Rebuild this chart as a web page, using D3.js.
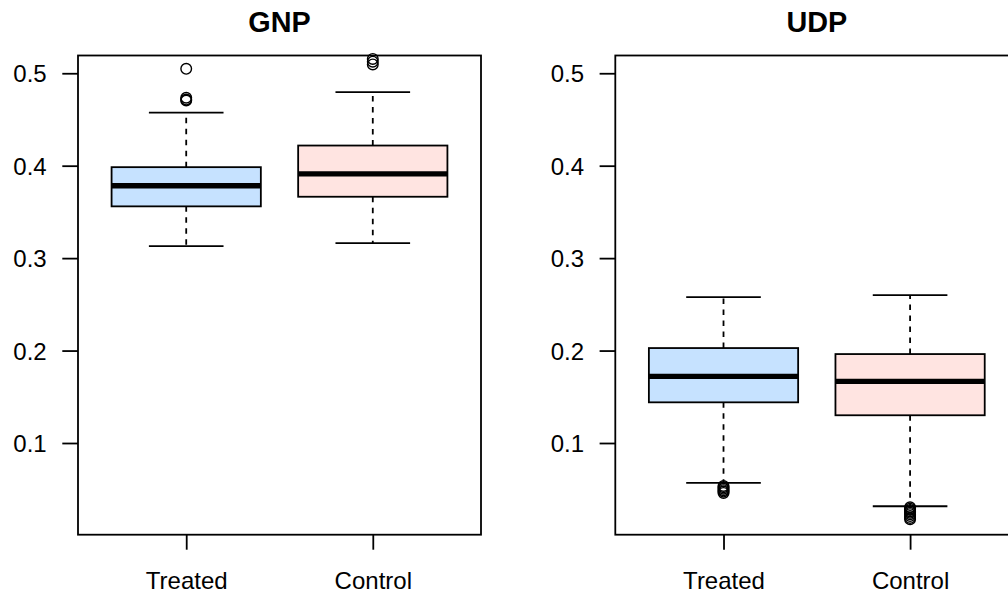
<!DOCTYPE html>
<html>
<head>
  <meta charset="utf-8" />
  <title>GNP / UDP boxplots</title>
  <script src="https://d3js.org/d3.v7.min.js"></script>
  <style>
    body{margin:0;background:#fff;}
    text{font-family:"Liberation Sans",Arial,Helvetica,sans-serif;fill:#000;}
  </style>
</head>
<body>
<script>
// groups and colours
var groups = ["Treated", "Control"];
var fills = ["#C6E2FF", "#FFE4E1"];
var yTicks = [0.1, 0.2, 0.3, 0.4, 0.5];

// five-number summaries: [lower whisker, Q1, median, Q3, upper whisker]
var gnpStats = [[0.313, 0.356, 0.3783, 0.3984, 0.4575], [0.3162, 0.3664, 0.3912, 0.4218, 0.4795]];
var gnpOutliers = [[0.5048, 0.4735, 0.4715, 0.4705], [0.5155, 0.5125, 0.5095]];
var udpStats = [[0.0568, 0.144, 0.1721, 0.2027, 0.2578], [0.0316, 0.130, 0.1667, 0.1962, 0.260]];
var udpOutliers = [[0.0535, 0.052, 0.0505, 0.049, 0.0475, 0.046],
                   [0.0305, 0.029, 0.0275, 0.026, 0.0245, 0.023, 0.021, 0.019, 0.0175]];

var panels = [
  {title: "GNP", stats: gnpStats, outliers: gnpOutliers, left: 78},
  {title: "UDP", stats: udpStats, outliers: udpOutliers, left: 615.3}
];

var W = 1008, H = 597;
var pw = 403, plotTop = 55.5, plotBottom = 534.7;

var svg = d3.select("body").append("svg").attr("width", W).attr("height", H);

// shared scales (R: ylim c(0.02,0.5) widened 4%)
var y = d3.scaleLinear().domain([0.0008, 0.5192]).range([plotBottom, plotTop]);
var x = d3.scaleLinear().domain([0.42, 2.58]).range([0, pw]);
var boxW = x(0.8) - x(0), capW = boxW / 2;

panels.forEach(function(p){
  var g = svg.append("g").attr("transform", "translate(" + p.left + ",0)");

  // title
  g.append("text").attr("x", pw / 2).attr("y", 31.5)
    .attr("text-anchor", "middle").style("font-weight", "bold").style("font-size", "28.8px")
    .text(p.title);

  // boxes
  var b = g.selectAll(".box").data(p.stats).enter().append("g").attr("class", "box");
  b.each(function(s, i){
    var c = x(i + 1), sel = d3.select(this);
    // dashed whiskers
    sel.append("line").attr("x1", c).attr("x2", c).attr("y1", y(s[3])).attr("y2", y(s[4]))
      .attr("stroke", "#000").attr("stroke-width", 1.8).attr("stroke-dasharray", "5.5,5.5");
    sel.append("line").attr("x1", c).attr("x2", c).attr("y1", y(s[1])).attr("y2", y(s[0]))
      .attr("stroke", "#000").attr("stroke-width", 1.8).attr("stroke-dasharray", "5.5,5.5");
    // staples
    [s[0], s[4]].forEach(function(v){
      sel.append("line").attr("x1", c - capW / 2).attr("x2", c + capW / 2).attr("y1", y(v)).attr("y2", y(v))
        .attr("stroke", "#000").attr("stroke-width", 1.8);
    });
    // box
    sel.append("rect").attr("x", c - boxW / 2).attr("width", boxW)
      .attr("y", y(s[3])).attr("height", y(s[1]) - y(s[3]))
      .attr("fill", fills[i]).attr("stroke", "#000").attr("stroke-width", 1.8);
    // median
    sel.append("line").attr("x1", c - boxW / 2).attr("x2", c + boxW / 2).attr("y1", y(s[2])).attr("y2", y(s[2]))
      .attr("stroke", "#000").attr("stroke-width", 5.3);
    // outliers
    sel.selectAll("circle").data(p.outliers[i]).enter().append("circle")
      .attr("cx", c).attr("cy", function(d){ return y(d); }).attr("r", 5.3)
      .attr("fill", "none").attr("stroke", "#000").attr("stroke-width", 1.4);
  });

  // frame
  g.append("rect").attr("x", 0).attr("y", plotTop).attr("width", pw).attr("height", plotBottom - plotTop)
    .attr("fill", "none").attr("stroke", "#000").attr("stroke-width", 1.8);

  // y axis
  var ya = g.append("g").call(d3.axisLeft(y).tickValues(yTicks).tickFormat(d3.format(".1f"))
    .tickSize(15.7).tickPadding(15.6));
  ya.attr("font-family", null).attr("font-size", null);
  ya.select(".domain").remove();
  ya.selectAll("line").attr("stroke-width", 1.8);
  ya.selectAll("text").style("font-size", "24px").attr("dy", "0.36em");

  // x axis
  var xa = g.append("g").attr("transform", "translate(0," + plotBottom + ")")
    .call(d3.axisBottom(x).tickValues([1, 2]).tickFormat(function(d){ return groups[d - 1]; })
      .tickSize(15));
  xa.attr("font-family", null).attr("font-size", null);
  xa.select(".domain").remove();
  xa.selectAll("line").attr("stroke-width", 1.8);
  xa.selectAll("text").style("font-size", "24px").attr("y", 54.8).attr("dy", null);
});
</script>
</body>
</html>
